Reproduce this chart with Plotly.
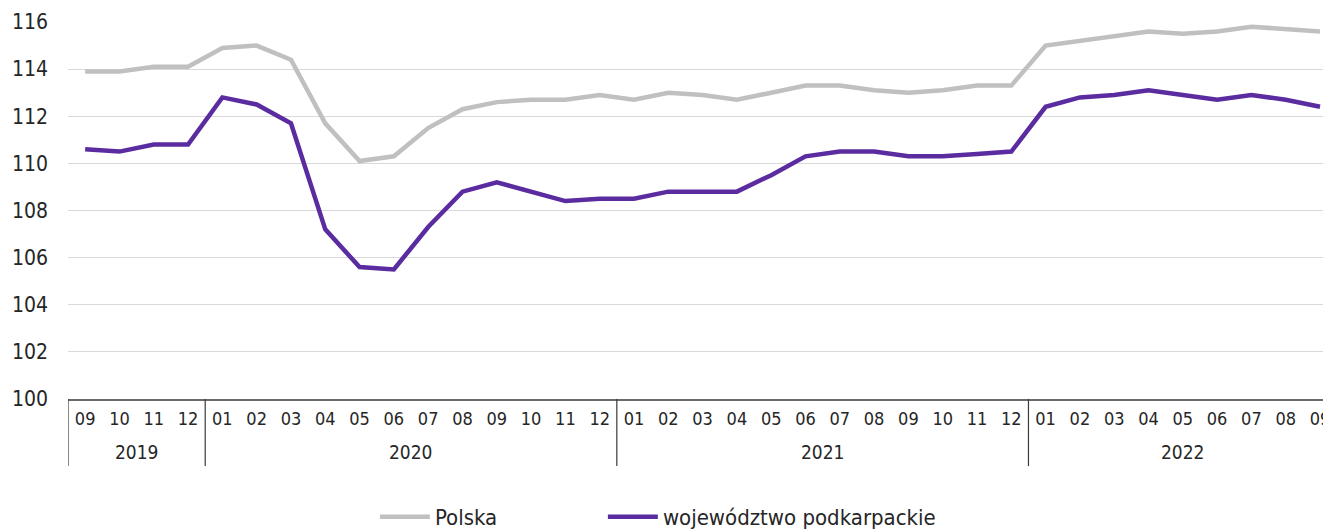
import plotly.graph_objects as go

years = ["2019", "2020", "2021", "2022"]
months_per_year = [["09", "10", "11", "12"],
                   [f"{m:02d}" for m in range(1, 13)],
                   [f"{m:02d}" for m in range(1, 13)],
                   [f"{m:02d}" for m in range(1, 10)]]
months = [m for grp in months_per_year for m in grp]

polska = [113.9, 113.9, 114.1, 114.1,
          114.9, 115.0, 114.4, 111.7, 110.1, 110.3, 111.5, 112.3, 112.6, 112.7, 112.7, 112.9,
          112.7, 113.0, 112.9, 112.7, 113.0, 113.3, 113.3, 113.1, 113.0, 113.1, 113.3, 113.3,
          115.0, 115.2, 115.4, 115.6, 115.5, 115.6, 115.8, 115.7, 115.6]
podkarpackie = [110.6, 110.5, 110.8, 110.8,
                112.8, 112.5, 111.7, 107.2, 105.6, 105.5, 107.3, 108.8, 109.2, 108.8, 108.4, 108.5,
                108.5, 108.8, 108.8, 108.8, 109.5, 110.3, 110.5, 110.5, 110.3, 110.3, 110.4, 110.5,
                112.4, 112.8, 112.9, 113.1, 112.9, 112.7, 112.9, 112.7, 112.4]

FONT = "DejaVu Sans Condensed, Liberation Sans Narrow, sans-serif"
x = list(range(len(months)))

fig = go.Figure()
fig.add_trace(go.Scatter(x=x, y=polska, mode="lines", name="Polska",
                         line=dict(color="#c0c0c0", width=4.5), legend="legend"))
fig.add_trace(go.Scatter(x=x, y=podkarpackie, mode="lines", name="województwo podkarpackie",
                         line=dict(color="#5a2ca0", width=4.5), legend="legend2"))

# year group labels and dividers
start = 0
bounds = [-0.5]
for yr, grp in zip(years, months_per_year):
    end = start + len(grp)
    fig.add_annotation(x=(start + end - 1) / 2, y=-0.141, xref="x", yref="paper",
                       text=yr, showarrow=False, font=dict(size=19, color="#262626"),
                       yanchor="middle")
    bounds.append(end - 0.5)
    start = end
for b in bounds:
    fig.add_shape(type="line", x0=b, x1=b, y0=0, y1=-0.178, xref="x", yref="paper",
                  line=dict(color="#3a3a3a", width=1.2))

# page body has an 8px margin, so the figure is sized/offset to fit the 1331x529 window
fig.update_layout(
    width=1323, height=521,
    margin=dict(l=60, r=0, t=14, b=130, autoexpand=False),
    paper_bgcolor="white", plot_bgcolor="white",
    font=dict(family=FONT, size=19, color="#262626"),
    showlegend=True,
    legend=dict(orientation="h", x=0.243, xanchor="left", y=-0.257, yanchor="top",
                font=dict(size=22), itemwidth=50, bgcolor="rgba(0,0,0,0)"),
    legend2=dict(orientation="h", x=0.4235, xanchor="left", y=-0.257, yanchor="top",
                 font=dict(size=22), itemwidth=50, bgcolor="rgba(0,0,0,0)"),
    xaxis=dict(range=[-0.5, 36.32], tickmode="array", tickvals=x, ticktext=months,
               showline=True, linecolor="#6a6a6a", linewidth=2, showgrid=False,
               zeroline=False, ticks="", tickfont=dict(size=18), ticklabelstandoff=2),
    yaxis=dict(range=[100, 116], dtick=2, showgrid=True, gridcolor="#d9d9d9", gridwidth=1,
               zeroline=False, showline=False, ticks="", tickfont=dict(size=21),
               ticklabelstandoff=19),
)

fig.write_html("out.html")
